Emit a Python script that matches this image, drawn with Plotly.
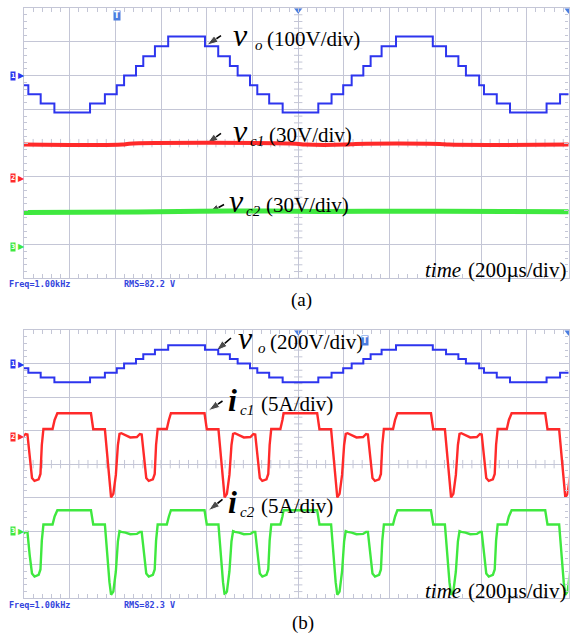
import plotly.graph_objects as go

W, H = 570, 636

# ---------------- data (read from the oscilloscope screens) ----------------
# time base 200 us/div ; instants at which the staircase output changes level
vo_t_us = [0, 19, 73, 133, 289, 354, 406, 438, 490, 522, 573, 631, 792, 850, 901, 935,
           989, 1021, 1073, 1132, 1288, 1346, 1397, 1434, 1485, 1517, 1565, 1628, 1789,
           1847, 1901, 1934, 1992, 2013, 2069, 2127, 2287, 2346, 2390]
# (a) output voltage, V (100 V/div)
vo_a_v = [-29, -55, -83, -109, -83, -55, -29, 0, 28, 57, 87, 116, 87, 57, 28, 0,
          -29, -55, -83, -109, -83, -55, -29, 0, 28, 57, 87, 116, 87, 57, 28, 0,
          -29, -55, -83, -109, -83, -55, -55]
# (b) output voltage, V (200 V/div)
vo_b_v = [-28, -55, -83, -111, -83, -55, -28, 0, 27, 55, 82, 109, 82, 55, 27, 0,
          -28, -55, -83, -111, -83, -55, -28, 0, 27, 55, 82, 109, 82, 55, 27, 0,
          -28, -55, -83, -111, -83, -55, -55]

# (a) capacitor voltages, V (30 V/div)
vc1_t_us = [0, 430, 460, 1190, 1230, 1410, 1450, 1820, 1860, 2390]
vc1_v = [28.7, 28.7, 29.5, 29.5, 28.7, 28.7, 29.3, 29.3, 28.7, 28.7]
vc2_t_us = [0, 500, 900, 1300, 1700, 2100, 2390]
vc2_v = [30.5, 30.8, 31.8, 31.3, 31.6, 31.4, 31.0]

# (b) capacitor currents, A (5 A/div): one half-cycle shape (time from the
# start of the high plateau) and the start instants of each plateau
ic_shape_dt_us = [0, 147, 157, 208, 217, 228, 235, 245, 256, 265, 272, 280, 298, 319,
                  348, 361, 369, 379, 389, 400, 418, 426, 432, 439, 479, 488]
ic1_shape_a = [3.49, 3.49, 1.10, 1.10, -2.73, -7.2, -9.06, -8.54, -5.7, -1.24, 0.40,
               0.51, 0.25, -0.12, -0.05, 0.40, 0.33, -3.47, -6.15, -6.6, -6.38, -5.56,
               -1.24, 1.15, 1.15, 2.49]
ic2_shape_a = [3.13, 3.13, 1.0, 1.0, -3.0, -7.6, -9.46, -9.0, -6.0, -1.5, 0.0,
               -0.1, -0.2, -0.45, -0.4, -0.1, -0.1, -3.6, -6.3, -6.75, -6.5, -5.7,
               -1.4, 1.0, 1.0, 2.2]
ic_plateau_start_us = [-354, 146, 643, 1136, 1634, 2134]

# ---------------- styling ----------------
BLUE = "#2d35ee"
RED = "#ff2a2a"
GREEN = "#3fe83f"
GRID = "#c4c6d6"
MARK = "#4a7de0"
SERIF = "Liberation Serif, Times New Roman, serif"

X_LEFT, X_RIGHT = 24, 568.5
DIV_PX = 45.7
Y_DIV_PX = 33.54
X_END = (X_RIGHT - X_LEFT) / DIV_PX * 200.0

A_TOP, A_BOT = 8, 278.3
B_TOP, B_BOT = 330, 598.3


def py(y):
    return 1 - y / H


def px(x):
    return x / W


def build_ic(shape):
    t, v = [], []
    for p in ic_plateau_start_us:
        for dt, a in zip(ic_shape_dt_us, shape):
            t.append(p + dt)
            v.append(a)
    return t, v


ic1_t, ic1_v = build_ic(ic1_shape_a)
ic2_t, ic2_v = build_ic(ic2_shape_a)

fig = go.Figure()

# traces panel (a)
fig.add_trace(go.Scatter(x=vo_t_us, y=vo_a_v, mode="lines", line=dict(color=BLUE, width=2, shape="hv"),
                         xaxis="x", yaxis="y3", hoverinfo="skip"))
fig.add_trace(go.Scatter(x=vc1_t_us, y=vc1_v, mode="lines", line=dict(color=RED, width=4, shape="spline"),
                         xaxis="x", yaxis="y4", hoverinfo="skip"))
fig.add_trace(go.Scatter(x=vc2_t_us, y=vc2_v, mode="lines", line=dict(color=GREEN, width=5, shape="spline"),
                         xaxis="x", yaxis="y5", hoverinfo="skip"))
# traces panel (b)
fig.add_trace(go.Scatter(x=vo_t_us, y=vo_b_v, mode="lines", line=dict(color=BLUE, width=2, shape="hv"),
                         xaxis="x2", yaxis="y6", hoverinfo="skip"))
fig.add_trace(go.Scatter(x=ic1_t, y=ic1_v, mode="lines", line=dict(color=RED, width=2.4),
                         xaxis="x2", yaxis="y7", hoverinfo="skip"))
fig.add_trace(go.Scatter(x=ic2_t, y=ic2_v, mode="lines", line=dict(color=GREEN, width=2.4),
                         xaxis="x2", yaxis="y8", hoverinfo="skip"))


def to_div(top, p):
    return (p[0] - X_LEFT) / DIV_PX * 200.0, (top + 8 * Y_DIV_PX - p[1]) / Y_DIV_PX


# centre cross-hair ticks (decoration of the scope graticule) and trigger marks
for xa, ya in (("x", "y"), ("x2", "y2")):
    hx = [i * 40 for i in range(0, 61)]
    fig.add_trace(go.Scatter(x=hx, y=[4] * len(hx), mode="markers", xaxis=xa, yaxis=ya,
                             marker=dict(symbol="line-ns", size=6, line=dict(color=GRID, width=1)),
                             hoverinfo="skip"))
    vy = [i * 0.2 for i in range(0, 41)]
    fig.add_trace(go.Scatter(x=[1200] * len(vy), y=vy, mode="markers", xaxis=xa, yaxis=ya,
                             marker=dict(symbol="line-ew", size=6, line=dict(color=GRID, width=1)),
                             hoverinfo="skip"))
    fig.add_trace(go.Scatter(x=[1200, X_END], y=[7.93, 7.93], mode="markers", xaxis=xa, yaxis=ya,
                             marker=dict(symbol="triangle-down", size=7, color=MARK),
                             cliponaxis=False, hoverinfo="skip"))


# pointer arrows (pixel positions converted to the graticule's division units)
def pointer(xa, ya, top, tail, head):
    (tx, ty), (hx, hy) = to_div(top, tail), to_div(top, head)
    fig.add_trace(go.Scatter(x=[tx, hx], y=[ty, hy], mode="lines+markers", xaxis=xa, yaxis=ya,
                             line=dict(color="black", width=1.6),
                             marker=dict(symbol="arrow", size=[0, 12], angleref="previous",
                                         color="black"),
                             cliponaxis=False, hoverinfo="skip"))


pointer("x", "y", A_TOP, (221, 35.5), (206.7, 45))
pointer("x", "y", A_TOP, (221, 132.5), (206.7, 142.7))
pointer("x", "y", A_TOP, (224, 203), (208.3, 211.7))
pointer("x2", "y2", B_TOP, (231, 338), (216, 351))
pointer("x2", "y2", B_TOP, (222.5, 401), (208.3, 410.7))
pointer("x2", "y2", B_TOP, (222.5, 499.5), (208.3, 510.7))

xcommon = dict(range=[0, X_END], dtick=200, tick0=0, showgrid=True, gridcolor=GRID, gridwidth=1.3,
               showline=True, linecolor=GRID, linewidth=1.3, mirror="allticks",
               ticks="inside", ticklen=4, tickcolor=GRID, showticklabels=False, zeroline=False,
               minor=dict(dtick=40, ticks="inside", ticklen=3, tickcolor=GRID, showgrid=False),
               fixedrange=True, domain=[px(X_LEFT), px(X_RIGHT)])
ycommon = dict(range=[0, 8], dtick=1, tick0=0, showgrid=True, gridcolor=GRID, gridwidth=1.3,
               showline=True, linecolor=GRID, linewidth=1.3, mirror="allticks",
               ticks="inside", ticklen=4, tickcolor=GRID, showticklabels=False, zeroline=False,
               minor=dict(dtick=0.2, ticks="inside", ticklen=3, tickcolor=GRID, showgrid=False),
               fixedrange=True)


def ov(base, xa, rng):
    return dict(overlaying=base, anchor=xa, range=rng, visible=False, fixedrange=True)


fig.update_layout(
    width=W, height=H, autosize=False,
    margin=dict(l=0, r=0, t=0, b=0),
    paper_bgcolor="white", plot_bgcolor="white",
    showlegend=False,
    xaxis=dict(xcommon, anchor="y"),
    xaxis2=dict(xcommon, anchor="y2"),
    yaxis=dict(ycommon, anchor="x", domain=[py(A_BOT), py(A_TOP)]),
    yaxis2=dict(ycommon, anchor="x2", domain=[py(B_BOT), py(B_TOP)]),
    yaxis3=ov("y", "x", [-600, 200]),
    yaxis4=ov("y", "x", [-90, 150]),
    yaxis5=ov("y", "x", [-28, 212]),
    yaxis6=ov("y2", "x2", [-1400, 200]),
    yaxis7=ov("y2", "x2", [-24.1, 15.9]),
    yaxis8=ov("y2", "x2", [-10, 30]),
)

ann = []


def text(x, y, s, size=21, anchor="left", style="normal", weight="normal"):
    ann.append(dict(xref="paper", yref="paper", x=px(x), y=py(y), text=s, showarrow=False,
                    xanchor=anchor, yanchor="middle",
                    font=dict(family=SERIF, size=size, color="black", style=style, weight=weight)))


def sym_label(x, yc, letter, sub, sub_x, unit, unit_x, weight="normal"):
    text(x, yc - 4, letter, size=32, style="italic", weight=weight)
    text(sub_x, yc + 6, sub, size=15, style="italic")
    text(unit_x, yc, unit)


sym_label(231, 39, "v", "o", 253, "(100V/div)", 265)
sym_label(231, 135, "v", "c1", 248, "(30V/div)", 267)
sym_label(227, 205, "v", "c2", 244, "(30V/div)", 264)
sym_label(236, 342, "v", "o", 256, "(200V/div)", 268)
sym_label(226, 404, "i", "c1", 238, "(5A/div)", 259, weight="bold")
sym_label(226, 506, "i", "c2", 238, "(5A/div)", 259, weight="bold")

text(423, 270, "time", style="italic")
text(568, 270, "(200µs/div)", anchor="right")
text(423, 591, "time", style="italic")
text(568, 591, "(200µs/div)", anchor="right")
text(301, 300, "(a)", size=19, anchor="center")
text(303, 623, "(b)", size=19, anchor="center")

MONO = "DejaVu Sans Mono, monospace"
for y, rms in ((284, "RMS=82.2 V"), (605, "RMS=82.3 V")):
    ann.append(dict(xref="paper", yref="paper", x=px(7), y=py(y), text="<b>Freq=1.00kHz</b>",
                    showarrow=False, xanchor="left", yanchor="middle",
                    font=dict(family=MONO, size=8.5, color="#3344dd")))
    ann.append(dict(xref="paper", yref="paper", x=px(122), y=py(y), text="<b>" + rms + "</b>",
                    showarrow=False, xanchor="left", yanchor="middle",
                    font=dict(family=MONO, size=8.5, color="#3344dd")))

# channel ground-reference tags
for y, num, col in ((76, "1", BLUE), (178, "2", RED), (246.5, "3", GREEN),
                    (364, "1", BLUE), (436.7, "2", RED), (531, "3", GREEN)):
    ann.append(dict(xref="paper", yref="paper", x=px(10), y=py(y), text="<b>" + num + "</b>",
                    showarrow=False, xanchor="left", yanchor="middle", bgcolor=col, borderpad=0,
                    font=dict(family=MONO, size=7, color="white")))
    ann.append(dict(xref="paper", yref="paper", x=px(16), y=py(y), text="▶",
                    showarrow=False, xanchor="left", yanchor="middle",
                    font=dict(family="DejaVu Sans", size=8, color=col)))

# trigger-position markers
for x, y in ((116.7, 15), (365, 340)):
    ann.append(dict(xref="paper", yref="paper", x=px(x), y=py(y), text="<b>T</b>",
                    showarrow=False, xanchor="center", yanchor="middle", bgcolor=MARK,
                    borderpad=0, font=dict(family="DejaVu Sans", size=8, color="white")))

fig.update_layout(annotations=ann)

fig.write_html("out.html", config={"displayModeBar": False},
               post_script="document.body.style.margin='0';")
